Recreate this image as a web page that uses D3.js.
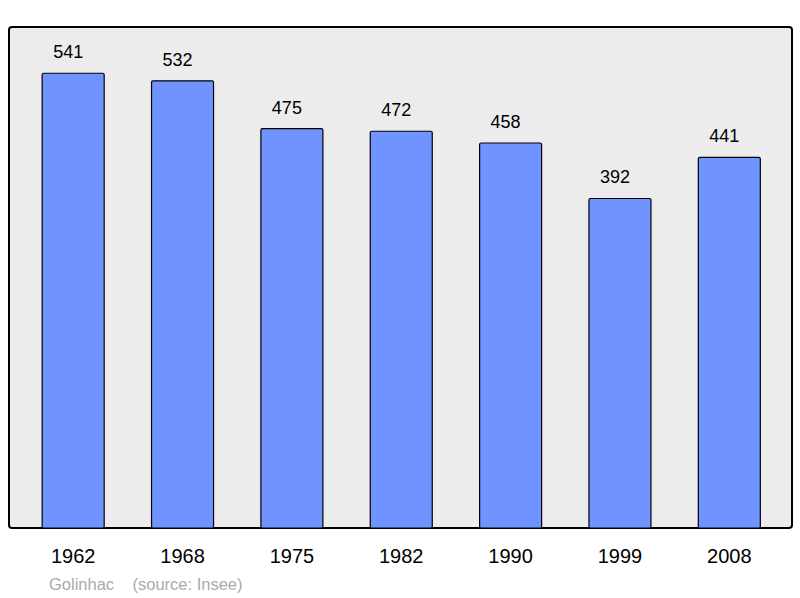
<!DOCTYPE html>
<html>
<head>
<meta charset="utf-8">
<script src="https://d3js.org/d3.v7.min.js"></script>
<style>
  body { margin: 0; background: #fff; }
  text { font-family: "Liberation Sans", Arial, sans-serif; }
</style>
</head>
<body>
<script>
  var years = ["1962", "1968", "1975", "1982", "1990", "1999", "2008"];
  var population = [541, 532, 475, 472, 458, 392, 441];

  var svg = d3.select("body").append("svg")
      .attr("width", 800)
      .attr("height", 598);

  // plot frame
  svg.append("rect")
      .attr("x", 9).attr("y", 27)
      .attr("width", 783).attr("height", 501)
      .attr("rx", 3)
      .attr("fill", "#ececec")
      .attr("stroke", "#000")
      .attr("stroke-width", 2);

  var x = d3.scaleBand()
      .domain(years)
      .range([18.5, 784])
      .paddingInner(0.433)
      .paddingOuter(0.2165);

  var y = d3.scaleLinear()
      .domain([0, 596])
      .range([528, 27]);

  var data = years.map(function(d, i) { return {year: d, value: population[i]}; });

  svg.selectAll(".bar")
      .data(data)
    .enter().append("rect")
      .attr("class", "bar")
      .attr("x", function(d) { return x(d.year); })
      .attr("y", function(d) { return y(d.value); })
      .attr("width", x.bandwidth())
      .attr("height", function(d) { return 528 - y(d.value); })
      .attr("rx", 1.5)
      .attr("fill", "#7094ff")
      .attr("stroke", "#000")
      .attr("stroke-width", 1.2);

  // value labels sit a little left of bar centre in the original
  svg.selectAll(".val")
      .data(data)
    .enter().append("text")
      .attr("class", "val")
      .attr("x", function(d) { return x(d.year) + x.bandwidth() / 2 - 5; })
      .attr("y", function(d) { return y(d.value) - 15; })
      .attr("text-anchor", "middle")
      .attr("font-size", 18)
      .text(function(d) { return d.value; });

  svg.selectAll(".yr")
      .data(years)
    .enter().append("text")
      .attr("class", "yr")
      .attr("x", function(d) { return x(d) + x.bandwidth() / 2; })
      .attr("y", 563)
      .attr("text-anchor", "middle")
      .attr("font-size", 20)
      .text(function(d) { return d; });

  svg.append("text")
      .attr("x", 49).attr("y", 590)
      .attr("font-size", 16.5)
      .attr("fill", "#aaa")
      .attr("xml:space", "preserve")
      .style("white-space", "pre")
      .text("Golinhac    (source: Insee)");
</script>
</body>
</html>
